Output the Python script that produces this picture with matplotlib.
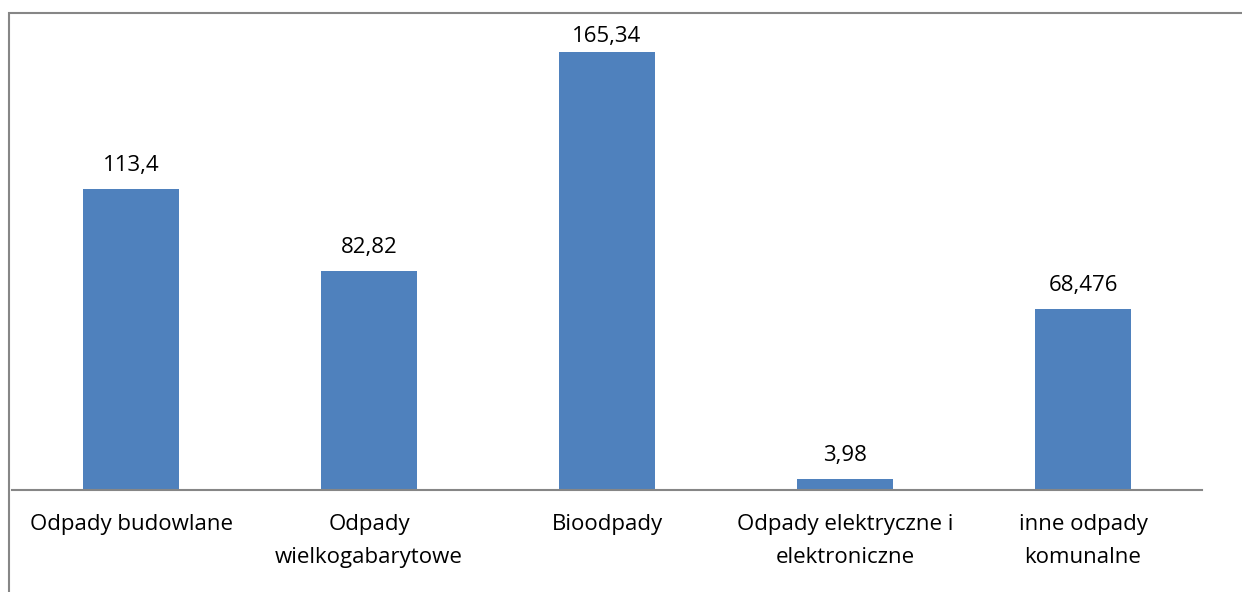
import matplotlib
matplotlib.use("Agg")
import matplotlib.pyplot as plt
from matplotlib.patches import Rectangle

categories = ["Odpady budowlane", "Odpady\nwielkogabarytowe", "Bioodpady",
              "Odpady elektryczne i\nelektroniczne", "inne odpady\nkomunalne"]
values = [113.4, 82.82, 165.34, 3.98, 68.476]
value_labels = ["113,4", "82,82", "165,34", "3,98", "68,476"]

plt.rcParams["font.family"] = ["Open Sans", "DejaVu Sans"]

W, H = 1242, 592
fig = plt.figure(figsize=(W / 100, H / 100), dpi=100)

# chart border (cut off at right and bottom like the source)
fig.patches.append(Rectangle((9 / W, -0.1), 1.2, (H - 13) / H + 0.1,
                             transform=fig.transFigure, fill=False,
                             edgecolor="#868686", linewidth=1.5))

ax_h = 477
ax = fig.add_axes([12 / W, (H - 490) / H, 1190 / W, ax_h / H])
x = range(len(categories))
ax.bar(x, values, width=0.4, color="#4f81bd")
ax.set_xlim(-0.5, len(categories) - 0.5)
ymax = 180
ax.set_ylim(0, ymax)

# labels sit above bars, but are kept inside the plot area (like Excel)
k = ax_h / ymax
for i, (v, lab) in enumerate(zip(values, value_labels)):
    y = min(v + 13 / k, ymax - 34 / k)
    ax.text(i, y, lab, ha="center", va="bottom", fontsize=16)

ax.set_xticks(list(x))
ax.set_xticklabels(categories, fontsize=16, linespacing=1.72)
ax.tick_params(axis="x", length=0, pad=17.5)
ax.set_yticks([])
for s in ["top", "right", "left"]:
    ax.spines[s].set_visible(False)
ax.spines["bottom"].set_color("#868686")
ax.spines["bottom"].set_linewidth(1.5)
ax.patch.set_visible(False)

fig.savefig("out.png", dpi=100)
